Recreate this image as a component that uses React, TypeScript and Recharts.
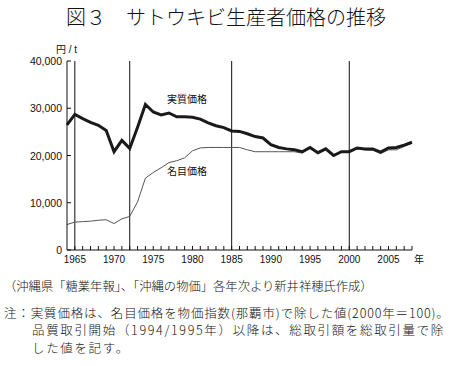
import { LineChart, Line, XAxis, YAxis, ReferenceLine } from 'recharts';

const YEARS = [
  1964, 1965, 1966, 1967, 1968, 1969, 1970, 1971, 1972, 1973, 1974, 1975, 1976, 1977, 1978,
  1979, 1980, 1981, 1982, 1983, 1984, 1985, 1986, 1987, 1988, 1989, 1990, 1991, 1992, 1993,
  1994, 1995, 1996, 1997, 1998, 1999, 2000, 2001, 2002, 2003, 2004, 2005, 2006, 2007, 2008,
];

// 実質価格 (円/t)
const REAL = [
  26500, 28700, 27800, 27000, 26400, 25300, 20800, 23200, 21500, 26000, 30800, 29200, 28600, 29000, 28200,
  28200, 28100, 27700, 26900, 26300, 25900, 25200, 25100, 24600, 24000, 23700, 22300, 21700, 21400, 21200,
  20800, 21700, 20600, 21400, 20000, 20800, 20800, 21600, 21400, 21400, 20700, 21600, 21700, 22200, 22800,
];

// 名目価格 (円/t)
const NOMINAL = [
  5400, 5900, 6000, 6100, 6300, 6400, 5600, 6600, 7100, 10200, 15200, 16400, 17400, 18500, 18900,
  19500, 21000, 21600, 21700, 21700, 21700, 21700, 21700, 21200, 20800, 20800, 20800, 20800, 20800, 20800,
  20500, 21500, 20500, 21200, 19900, 20700, 20800, 21400, 21200, 21100, 20400, 21200, 21200, 21900, 22600,
];

const Y_TICKS = [0, 10000, 20000, 30000, 40000];
const X_TICKS = YEARS.slice(1);
const MARK_YEARS = [1965, 1972, 1985, 2000];

const NOTES = [
  '注：実質価格は、名目価格を物価指数(那覇市)で除した値(2000年＝100)。',
  '品質取引開始（1994/1995年）以降は、総取引額を総取引量で除',
  'した値を記す。',
];

const data = YEARS.map((year, i) => ({ year, real: REAL[i], nominal: NOMINAL[i] }));

const tickFont = '"Liberation Sans", Arial, sans-serif';
const jpFont = '"Noto Sans CJK JP", sans-serif';

const XTick = (props: any) => {
  const { x, y, payload } = props;
  const showLabel = payload.value % 5 === 0;
  return (
    <g>
      <line x1={x} y1={y} x2={x} y2={y - 4} stroke="#111" strokeWidth={1} />
      {showLabel && (
        <text x={x} y={y + 13} textAnchor="middle" fontSize={10} fontFamily={tickFont} fill="#111">
          {payload.value}
        </text>
      )}
    </g>
  );
};

const YTick = (props: any) => {
  const { x, y, payload } = props;
  return (
    <g>
      <line x1={x} y1={y} x2={x + 4} y2={y} stroke="#111" strokeWidth={1} />
      <text x={x - 5} y={y + 4} textAnchor="end" fontSize={10.5} fontFamily={tickFont} fill="#111">
        {payload.value.toLocaleString('en-US')}
      </text>
    </g>
  );
};

const noteStyle = (top: number, left: number, spacing: number) => ({
  position: 'absolute' as const,
  left,
  top,
  lineHeight: '17.5px',
  fontFamily: jpFont,
  fontSize: 12.5,
  fontWeight: 300,
  letterSpacing: spacing,
  whiteSpace: 'nowrap' as const,
});

const App = () => {
  return (
    <div style={{ position: 'absolute', left: 0, top: 0, width: 451, height: 366, background: '#fff', color: '#111' }}>
      <div
        style={{
          position: 'absolute', left: 66, top: 3, whiteSpace: 'nowrap',
          fontFamily: jpFont, fontSize: 20, fontWeight: 300, lineHeight: '28px',
        }}
      >
        図３　サトウキビ生産者価格の推移
      </div>

      <div style={{ position: 'absolute', left: 56, top: 41, fontFamily: tickFont, fontSize: 10 }}>
        <span style={{ fontFamily: jpFont }}>円</span> / t
      </div>

      <div style={{ position: 'absolute', left: 0, top: 0 }}>
        <LineChart width={451} height={270} data={data} margin={{ top: 61, right: 39, bottom: 0, left: 0 }}>
          <XAxis
            dataKey="year"
            type="number"
            domain={[1964, 2008]}
            ticks={X_TICKS}
            interval={0}
            tickSize={0}
            tickMargin={0}
            tickLine={false}
            height={20}
            axisLine={{ stroke: '#111', strokeWidth: 1 }}
            tick={<XTick />}
          />
          <YAxis
            type="number"
            domain={[0, 40000]}
            ticks={Y_TICKS}
            interval={0}
            width={67}
            tickSize={0}
            tickMargin={0}
            tickLine={false}
            axisLine={{ stroke: '#111', strokeWidth: 1 }}
            tick={<YTick />}
          />
          {MARK_YEARS.map((yr) => (
            <ReferenceLine key={yr} x={yr} stroke="#111" strokeWidth={1} />
          ))}
          <Line
            type="linear"
            dataKey="nominal"
            stroke="#555"
            strokeWidth={1}
            dot={false}
            isAnimationActive={false}
          />
          <Line
            type="linear"
            dataKey="real"
            stroke="#1a1a1a"
            strokeWidth={3}
            dot={false}
            isAnimationActive={false}
          />
        </LineChart>
      </div>

      <div style={{ position: 'absolute', left: 167, top: 92, fontFamily: jpFont, fontSize: 10, lineHeight: '14px' }}>
        実質価格
      </div>
      <div style={{ position: 'absolute', left: 167, top: 164, fontFamily: jpFont, fontSize: 10, lineHeight: '14px' }}>
        名目価格
      </div>
      <div style={{ position: 'absolute', left: 414, top: 252, fontFamily: jpFont, fontSize: 10, lineHeight: '14px' }}>
        年
      </div>

      <div style={{ position: 'absolute', left: 4, top: 277, fontFamily: jpFont, fontSize: 12.3, fontWeight: 300, lineHeight: '18px', whiteSpace: 'nowrap' }}>
        （沖縄県「糖業年報」、「沖縄の物価」各年次より新井祥穂氏作成）
      </div>
      <div style={noteStyle(303.5, 4, 0.85)}>{NOTES[0]}</div>
      <div style={noteStyle(321, 32, 1.65)}>{NOTES[1]}</div>
      <div style={noteStyle(338.5, 32, 1.65)}>{NOTES[2]}</div>
    </div>
  );
};

export default App;
